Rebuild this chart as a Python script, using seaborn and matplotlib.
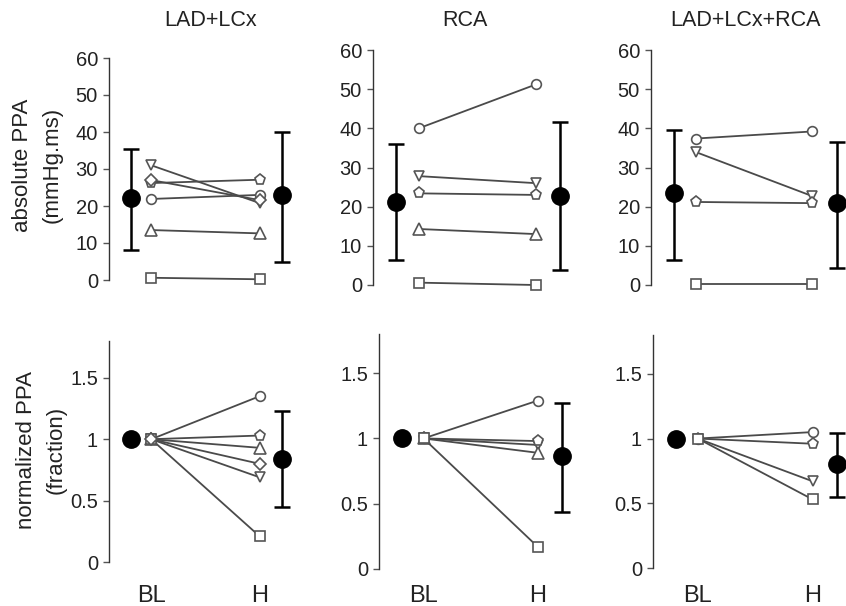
import pandas as pd
import seaborn as sns
import matplotlib.pyplot as plt
import matplotlib.transforms as mtransforms

# individual subjects (BL, H), marker per subject
subjects = ["circle", "tri_down", "pentagon", "tri_up", "square", "diamond"]
markers = {"circle": "o", "tri_down": "v", "pentagon": "p", "tri_up": "^", "square": "s", "diamond": "D"}
msizes = {"circle": 7, "tri_down": 7, "pentagon": 8, "tri_up": 8, "square": 7, "diamond": 6}

groups = ["LAD+LCx", "RCA", "LAD+LCx+RCA"]

abs_bl = {
    "LAD+LCx": [21.9, 31.0, 26.2, 13.5, 0.6, 27.0],
    "RCA": [40.0, 27.8, 23.4, 14.3, 0.6, None],
    "LAD+LCx+RCA": [37.4, 33.9, 21.2, None, 0.2, None],
}
abs_h = {
    "LAD+LCx": [23.0, 20.8, 27.1, 12.6, 0.2, 21.6],
    "RCA": [51.2, 26.0, 23.0, 13.0, 0.0, None],
    "LAD+LCx+RCA": [39.2, 22.7, 20.9, None, 0.2, None],
}
norm_h = {
    "LAD+LCx": [1.35, 0.69, 1.03, 0.93, 0.21, 0.80],
    "RCA": [1.29, 0.95, 0.98, 0.89, 0.17, None],
    "LAD+LCx+RCA": [1.05, 0.67, 0.96, None, 0.53, None],
}

# group means with error bar ends (low, high)
abs_mean_bl = {"LAD+LCx": (22.1, 8.2, 35.5), "RCA": (21.1, 6.4, 35.9), "LAD+LCx+RCA": (23.4, 6.4, 39.7)}
abs_mean_h = {"LAD+LCx": (23.0, 5.0, 40.0), "RCA": (22.6, 3.8, 41.7), "LAD+LCx+RCA": (20.9, 4.3, 36.4)}
norm_mean_h = {"LAD+LCx": (0.84, 0.45, 1.23), "RCA": (0.865, 0.435, 1.27), "LAD+LCx+RCA": (0.80, 0.55, 1.04)}

x_bl, x_h = 0, 1
x_mean_bl, x_mean_h = -0.19, 1.21
x_labels = ["BL", "H"]

sns.set_style("ticks")
plt.rcParams["font.family"] = ["Liberation Sans", "DejaVu Sans"]

W, H = 846, 606
fig = plt.figure(figsize=(W / 100, H / 100), dpi=100)


def rect(l, t, r, b):
    return [l / W, 1 - b / H, (r - l) / W, (b - t) / H]


boxes_top = [(109, 58, 292, 280), (373, 50, 571, 285), (651, 50, 847, 285)]
boxes_bot = [(109, 341, 292, 562), (379, 334, 572, 569), (653, 335, 847, 568)]
title_x = [211, 465, 745]

line_c = "#4a4a4a"
edge_c = "#555555"
text_c = "#222222"


def draw_subjects(ax, bl, h):
    rows = []
    for s, a, b in zip(subjects, bl, h):
        if a is None:
            continue
        rows.append({"subject": s, "x": x_bl, "v": a})
        rows.append({"subject": s, "x": x_h, "v": b})
    df = pd.DataFrame(rows)
    for s, d in df.groupby("subject", sort=False):
        sns.lineplot(data=d, x="x", y="v", ax=ax, color=line_c, lw=1.3,
                     marker=markers[s], markersize=msizes[s], markerfacecolor="white",
                     markeredgecolor=edge_c, markeredgewidth=1.2, clip_on=False,
                     legend=False, zorder=3)


def draw_mean(ax, x, m):
    v, lo, hi = m
    ax.errorbar([x], [v], yerr=[[v - lo], [hi - v]], fmt="o", color="black",
                ms=12.5, capsize=6, elinewidth=1.8, capthick=1.8, clip_on=False, zorder=4)


def style(ax, ylim, yticks, yticklabels):
    ax.set_xlim(-0.39, 1.3)
    ax.set_ylim(*ylim)
    ax.set_yticks(yticks)
    ax.set_yticklabels(yticklabels)
    ax.set_xticks([])
    for sp in ["top", "right", "bottom"]:
        ax.spines[sp].set_visible(False)
    ax.spines["left"].set_color("#333333")
    ax.spines["left"].set_linewidth(1.0)
    ax.tick_params(axis="y", length=4, width=1, color="#555555", labelsize=14.5, labelcolor=text_c, pad=4)
    ax.set_xlabel("")
    ax.set_ylabel("")
    ax.patch.set_alpha(0)


for i, g in enumerate(groups):
    ax = fig.add_axes(rect(*boxes_top[i]))
    draw_subjects(ax, abs_bl[g], abs_h[g])
    draw_mean(ax, x_mean_bl, abs_mean_bl[g])
    draw_mean(ax, x_mean_h, abs_mean_h[g])
    style(ax, (0, 60), [0, 10, 20, 30, 40, 50, 60], ["0", "10", "20", "30", "40", "50", "60"])
    fig.text(title_x[i] / W, 1 - 20 / H, g, ha="center", va="center", fontsize=15.5, color=text_c)

    ax2 = fig.add_axes(rect(*boxes_bot[i]))
    draw_subjects(ax2, [None if v is None else 1.0 for v in norm_h[g]], norm_h[g])
    ax2.plot([x_mean_bl], [1.0], "o", color="black", ms=12.5, zorder=4, clip_on=False)
    draw_mean(ax2, x_mean_h, norm_mean_h[g])
    style(ax2, (0, 1.8), [0, 0.5, 1, 1.5], ["0", "0.5", "1", "1.5"])
    tr = mtransforms.blended_transform_factory(ax2.transData, fig.transFigure)
    for xv, lab in zip([x_bl, x_h], x_labels):
        ax2.text(xv, 1 - 596 / H, lab, transform=tr, ha="center", va="center",
                 fontsize=17, color=text_c)

fig.text(37 / W, 1 - 165 / H, "absolute PPA\n(mmHg.ms)", rotation=90, ha="center", va="center",
         fontsize=16, linespacing=1.55, color=text_c)
fig.text(41 / W, 1 - 450 / H, "normalized PPA\n(fraction)", rotation=90, ha="center", va="center",
         fontsize=16, linespacing=1.55, color=text_c)

fig.savefig("out.png", dpi=100)
